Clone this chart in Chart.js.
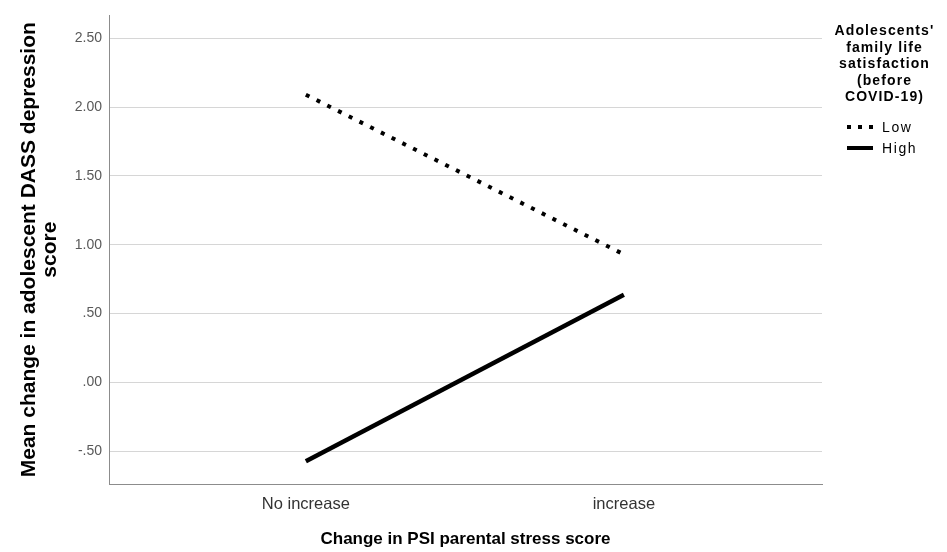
<!DOCTYPE html>
<html><head><meta charset="utf-8">
<script src="https://cdn.jsdelivr.net/npm/chart.js@4.4.1/dist/chart.umd.min.js"></script>
<style>
body{margin:0;background:#fff}
#wrap{position:relative;width:947px;height:552px}
#legend{position:absolute;left:822px;width:125px;top:22px;font-family:"Liberation Sans",Arial,sans-serif;color:#000}
#ltitle{font-weight:bold;font-size:14px;line-height:16.5px;letter-spacing:1.1px;text-align:center}
.item{position:absolute;left:25px;display:flex;align-items:center;height:18px;font-size:14px;letter-spacing:1.6px}
.swatch{width:26px;height:4px;margin-right:9px}
.dot{background:repeating-linear-gradient(90deg,#000 0 4px,transparent 4px 11px)}
.solid{background:#000;height:3.5px}
</style></head><body>
<div id="wrap"><canvas id="c" width="947" height="552"></canvas>
<div id="legend"><div id="ltitle"></div></div></div>
<script>
const categories = ['No increase', 'increase'];
const seriesNames = ['Low', 'High'];
const lowValues = [2.09, 0.93];
const highValues = [-0.572, 0.637];
const yTickValues = [-0.5, 0, 0.5, 1, 1.5, 2, 2.5];
const yTickLabels = ['-.50', '.00', '.50', '1.00', '1.50', '2.00', '2.50'];
const legendTitleLines = ["Adolescents'", 'family life', 'satisfaction', '(before', 'COVID-19)'];
const yTitleLines = ['Mean change in adolescent DASS depression', 'score'];
const xTitle = 'Change in PSI parental stress score';

// legend (HTML)
const lg = document.getElementById('legend');
document.getElementById('ltitle').innerHTML = legendTitleLines.join('<br>');
const legendItems = [
  {name: seriesNames[0], cls: 'dot', top: 96},
  {name: seriesNames[1], cls: 'solid', top: 117}
];
legendItems.forEach(it => {
  const d = document.createElement('div');
  d.className = 'item';
  d.style.top = it.top + 'px';
  const s = document.createElement('span');
  s.className = 'swatch ' + it.cls;
  d.appendChild(s);
  d.appendChild(document.createTextNode(it.name));
  lg.appendChild(d);
});

const toPts = vals => vals.map((v, i) => ({x: i, y: v}));

new Chart(document.getElementById('c'), {
  type: 'line',
  data: {
    datasets: [
      {label: seriesNames[0], data: toPts(lowValues), borderColor: '#000', borderWidth: 4,
       borderDash: [4, 8], borderCapStyle: 'butt', pointRadius: 0, fill: false},
      {label: seriesNames[1], data: toPts(highValues), borderColor: '#000', borderWidth: 4.5,
       borderCapStyle: 'butt', pointRadius: 0, fill: false}
    ]
  },
  options: {
    responsive: false,
    animation: false,
    layout: {padding: {top: 12, right: 125, left: 0, bottom: 0}},
    plugins: {legend: {display: false}, tooltip: {enabled: false}},
    scales: {
      x: {
        type: 'linear', min: -0.619, max: 1.623,
        afterBuildTicks: s => { s.ticks = categories.map((c, i) => ({value: i})); },
        afterFit: s => { s.height = 68; },
        ticks: {
          callback: v => categories[v] ?? '',
          font: {family: '"Liberation Sans", Arial, sans-serif', size: 16.5},
          color: '#333', padding: 11, maxRotation: 0, autoSkip: false
        },
        grid: {display: false, drawTicks: false},
        border: {display: true, color: '#8c8c8c', width: 1},
        title: {display: true, text: xTitle, color: '#000',
          font: {family: '"Liberation Sans", Arial, sans-serif', size: 17, weight: 'bold', lineHeight: 1.2},
          padding: {top: 0, bottom: 2}}
      },
      y: {
        type: 'linear', min: -0.738, max: 2.666,
        afterBuildTicks: s => { s.ticks = yTickValues.map(v => ({value: v})); },
        afterFit: s => { s.width = 109; },
        ticks: {
          callback: v => yTickLabels[yTickValues.indexOf(v)] ?? '',
          font: {family: '"Liberation Sans", Arial, sans-serif', size: 14},
          color: '#595959', padding: 7
        },
        grid: {color: '#d6d6d6', lineWidth: 1, drawTicks: false},
        border: {display: true, color: '#8c8c8c', width: 1},
        title: {display: true, text: yTitleLines, color: '#000',
          font: {family: '"Liberation Sans", Arial, sans-serif', size: 21, weight: 'bold', lineHeight: 1.0},
          padding: {top: 18.5, bottom: 0}}
      }
    }
  }
});
</script>
</body></html>
